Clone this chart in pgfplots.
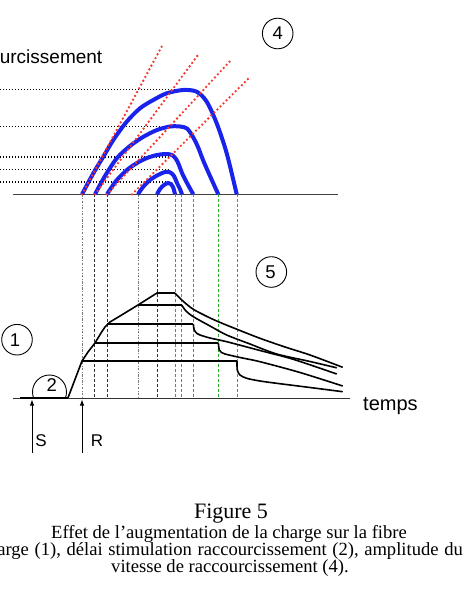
\documentclass[border=0pt]{standalone}
\usepackage{pgfplots}
\pgfplotsset{compat=1.18}
\usepackage{fontspec}
\setmainfont{Liberation Sans}
\newfontfamily\capfont{Liberation Serif}
\usetikzlibrary{arrows.meta}
\definecolor{arcblue}{RGB}{25,35,235}
\definecolor{tanred}{RGB}{245,55,45}
\definecolor{vgreen}{RGB}{40,175,40}
\definecolor{vgray}{RGB}{120,120,120}
\definecolor{vdark}{RGB}{50,50,50}
\begin{document}
\begin{tikzpicture}
\begin{axis}[width=466pt,height=600pt,scale only axis,
  xmin=0,xmax=466,ymin=0,ymax=600,y dir=reverse,hide axis,clip=false]
\coordinate (SW) at (axis cs:0,600);
\coordinate (NE) at (axis cs:466,0);
% baselines
\addplot[no marks,black!75,line width=1.1pt] coordinates {(13,194.3) (338,194.3)};
\addplot[no marks,black!80,line width=1.1pt] coordinates {(13,398.7) (350,398.7)};
% vertical guide lines
\addplot[no marks,vgray,line width=0.9pt,dash pattern=on 2.5pt off 1.5pt on 0.7pt off 1.5pt] coordinates {(82,194.3) (82,398.7)};
\addplot[no marks,vgray,line width=0.9pt,dash pattern=on 2.5pt off 1.5pt on 0.7pt off 1.5pt] coordinates {(138,194.3) (138,398.7)};
\addplot[no marks,vdark,line width=0.9pt,dash pattern=on 3pt off 2pt] coordinates {(94.5,194.3) (94.5,398.7)};
\addplot[no marks,vdark,line width=0.9pt,dash pattern=on 3pt off 2pt] coordinates {(107,194.3) (107,398.7)};
\addplot[no marks,vdark,line width=0.9pt,dash pattern=on 3pt off 2pt] coordinates {(157,194.3) (157,398.7)};
\addplot[no marks,vgreen,line width=0.9pt,dash pattern=on 3pt off 2pt] coordinates {(175,194.3) (175,398.7)};
\addplot[no marks,vgreen,line width=0.9pt,dash pattern=on 3pt off 2pt] coordinates {(181.7,194.3) (181.7,398.7)};
\addplot[no marks,vgreen,line width=0.9pt,dash pattern=on 3pt off 2pt] coordinates {(193.5,194.3) (193.5,398.7)};
\addplot[no marks,vgreen,line width=0.9pt,dash pattern=on 3pt off 2pt] coordinates {(218.5,194.3) (218.5,398.7)};
\addplot[no marks,vgreen,line width=0.9pt,dash pattern=on 3pt off 2pt] coordinates {(237,194.3) (237,398.7)};
% horizontal dotted lines (amplitudes)
\addplot[no marks,black,line width=1.1pt,dash pattern=on 1pt off 2pt] coordinates {(0,89.5) (187,89.5)};
\addplot[no marks,black,line width=1.1pt,dash pattern=on 1pt off 2pt] coordinates {(0,126.5) (175,126.5)};
\addplot[no marks,black,line width=1.1pt,dash pattern=on 1pt off 2pt] coordinates {(0,157) (170,157)};
\addplot[no marks,black,line width=1.1pt,dash pattern=on 1pt off 2pt] coordinates {(0,169.5) (170,169.5)};
\addplot[no marks,black,line width=1.1pt,dash pattern=on 1pt off 2pt] coordinates {(0,182) (167,182)};
% blue shortening arcs
\addplot[no marks,arcblue,line width=4pt,smooth,tension=0.5] coordinates {(82,194.3) (93.3,173.3) (103.3,156.7) (113.3,140) (126.7,121.7) (140,108.3) (153.3,100) (166.7,93.3) (183.3,90) (196.7,91.7) (206.7,101.7) (216.7,123.3) (226.7,153.3) (236.7,194.3)};
\addplot[no marks,arcblue,line width=4pt,smooth,tension=0.5] coordinates {(95,194.3) (105,176) (117,158) (130,146) (143,137) (157,130) (170,126.5) (180,126.5) (187,128.5) (193,137) (198,147) (203,160) (210,176) (218.3,194.3)};
\addplot[no marks,arcblue,line width=4pt,smooth,tension=0.5] coordinates {(107,194.3) (116,181) (127,170) (137,163) (147,158) (157,155) (166,154) (172,155) (176,159) (179,165) (182,173) (187,183) (193.3,194.3)};
\addplot[no marks,arcblue,line width=4pt,smooth,tension=0.5] coordinates {(138,194.3) (143,187) (150,180) (158,175) (165,172) (170,172.3) (174,176) (177,183) (180,189) (182,194.3)};
\addplot[no marks,arcblue,line width=4pt,smooth,tension=0.5] coordinates {(157,194.3) (160,189) (164,185) (168,183) (171,184) (173,187) (174,190) (175,194.3)};
% red dotted tangents
\addplot[no marks,tanred,line width=2.6pt,line cap=round,dash pattern=on 0pt off 4.3pt] coordinates {(82,194.3) (162,46)};
\addplot[no marks,tanred,line width=2.6pt,line cap=round,dash pattern=on 0pt off 4.3pt] coordinates {(95,194.3) (198,55)};
\addplot[no marks,tanred,line width=2.6pt,line cap=round,dash pattern=on 0pt off 4.3pt] coordinates {(107,194.3) (232,59)};
\addplot[no marks,tanred,line width=2.6pt,line cap=round,dash pattern=on 0pt off 4.3pt] coordinates {(132,194.3) (248,79)};
% bottom panel: tension rise
\addplot[no marks,black,line width=1.8pt] coordinates {(20,397.8) (68,397.8)};
\addplot[no marks,black,line width=1.6pt,sharp plot] coordinates {(68,397.8) (82,361) (88,352) (95,343) (101,333) (105,327) (110,322) (120,316) (138,305) (157,293) (175,293)};
% plateaus
\addplot[no marks,black,line width=1.6pt] coordinates {(138,305) (181.7,305)};
\addplot[no marks,black,line width=1.6pt] coordinates {(107,324) (193.3,324)};
\addplot[no marks,black,line width=1.6pt] coordinates {(95,342.7) (218.3,342.7)};
\addplot[no marks,black,line width=1.6pt] coordinates {(82,361) (237,361)};
% decays
\addplot[no marks,black,line width=1.6pt,smooth,tension=0.5] coordinates {(175,293.3) (184,302) (193.3,309.3) (205,315.5) (218.3,321.7) (240,330.5) (260,338.3) (285,347) (310,355) (342.7,367.3)};
\addplot[no marks,black,line width=1.6pt,smooth,tension=0.5] coordinates {(181.7,305) (186,311) (193.3,316.7) (210,326) (226.7,335) (250,344) (276.7,354) (310,361.5) (336.7,367.8)};
\addplot[no marks,black,line width=1.6pt,smooth,tension=0.5] coordinates {(193.3,324) (194.3,330) (197,333.5) (200,335) (210,338) (226.7,341.7) (260,350.5) (293.3,359.3) (336.7,374)};
\addplot[no marks,black,line width=1.6pt,smooth,tension=0.5] coordinates {(218.3,342.7) (219.3,350) (221.5,352.5) (225,354) (240,357.5) (260,361.7) (300,372.5) (342.7,386)};
\addplot[no marks,black,line width=1.6pt,smooth,tension=0.5] coordinates {(237,361) (237.3,370) (240,375) (246.7,378.3) (260,381) (276.7,383.3) (310,387.5) (342.7,391.7)};
% arrows S and R
\addplot[no marks,black,line width=0.9pt,-{Latex[length=6pt,width=4.5pt]}] coordinates {(32,453) (32,399.5)};
\addplot[no marks,black,line width=0.9pt,-{Latex[length=6pt,width=4.5pt]}] coordinates {(82,453) (82,399.5)};
% circled numbers
\draw[black,line width=0.9pt] (axis cs:277.7,33.5) circle[radius=15.3];
\draw[black,line width=0.9pt] (axis cs:271.3,272) circle[radius=15.3];
\draw[black,line width=0.9pt] (axis cs:17,339.7) circle[radius=15.3];
\begin{scope}
\clip (axis cs:0,0) rectangle (axis cs:466,398.2);
\draw[black,line width=0.9pt] (axis cs:49.5,392) circle[radius=17];
\end{scope}
\node[font=\fontsize{18.5}{18.5}\selectfont,inner sep=0pt] at (axis cs:277.7,33.5) {4};
\node[font=\fontsize{18.5}{18.5}\selectfont,inner sep=0pt] at (axis cs:270.5,272.5) {5};
\node[font=\fontsize{18.5}{18.5}\selectfont,inner sep=0pt] at (axis cs:15,340) {1};
\node[font=\fontsize{18.5}{18.5}\selectfont,inner sep=0pt] at (axis cs:51.7,385) {2};
% labels
\node[font=\fontsize{19}{19}\selectfont,inner sep=0pt,anchor=base east] at (axis cs:102.5,63.3) {Vitesse de raccourcissement};
\node[font=\fontsize{20}{20}\selectfont,inner sep=0pt,anchor=base west] at (axis cs:363,410) {temps};
\node[font=\fontsize{17}{17}\selectfont,inner sep=0pt,anchor=base] at (axis cs:41,446) {S};
\node[font=\fontsize{17}{17}\selectfont,inner sep=0pt,anchor=base] at (axis cs:97,446) {R};
% caption
\node[font=\capfont\fontsize{22}{22}\selectfont,inner sep=0pt,anchor=base] at (axis cs:231,518) {Figure 5};
\node[font=\capfont\fontsize{18.6}{18.6}\selectfont,inner sep=0pt,anchor=base] at (axis cs:229,538.5) {Effet de l’augmentation de la charge sur la fibre};
\node[font=\capfont\fontsize{18.6}{18.6}\selectfont,inner sep=0pt,anchor=base east] at (axis cs:463,555.5) {\spaceskip=5.6pt charge (1), délai stimulation raccourcissement (2), amplitude du};
\node[font=\capfont\fontsize{18.6}{18.6}\selectfont,inner sep=0pt,anchor=base] at (axis cs:230,572) {vitesse de raccourcissement (4).};
\end{axis}
\pgfresetboundingbox
\useasboundingbox (SW) rectangle (NE);
\end{tikzpicture}
\end{document}
